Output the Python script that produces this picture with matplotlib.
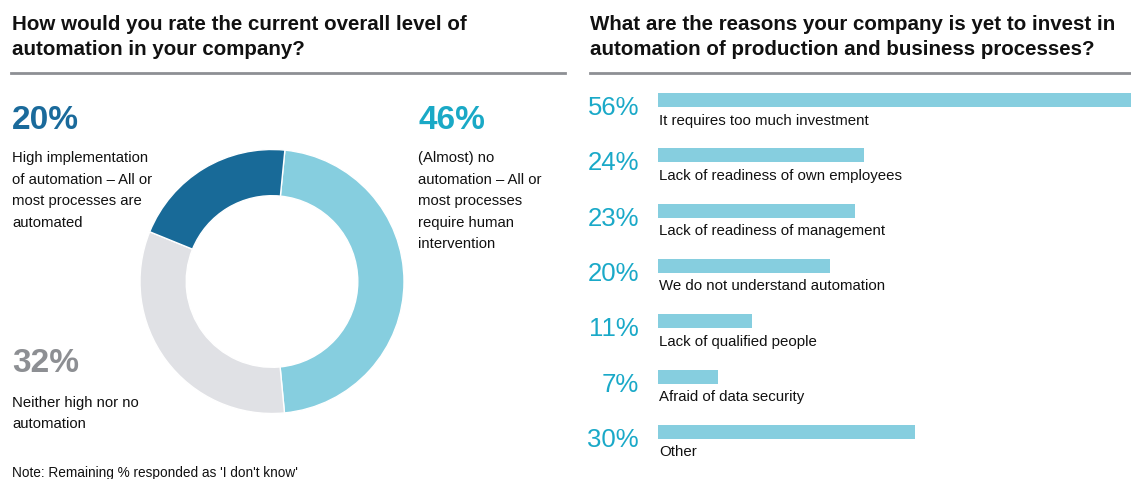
import matplotlib.pyplot as plt
from matplotlib import font_manager

# --- data -------------------------------------------------------------
donut_labels = ["(Almost) no automation", "Neither high nor no automation",
                "High implementation of automation"]
donut_values = [46, 32, 20]

reasons = ["It requires too much investment",
           "Lack of readiness of own employees",
           "Lack of readiness of management",
           "We do not understand automation",
           "Lack of qualified people",
           "Afraid of data security",
           "Other"]
reason_pct = [56, 24, 23, 20, 11, 7, 30]

# --- style ------------------------------------------------------------
names = {f.name for f in font_manager.fontManager.ttflist}
NARROW = "Liberation Sans Narrow" if "Liberation Sans Narrow" in names else "Liberation Sans"
plt.rcParams["font.family"] = [NARROW, "DejaVu Sans"]

DARK = "#186a98"
LIGHT = "#86cedf"
GREY = "#e0e1e5"
CYAN = "#1aa9c8"
RULE = "#8d8f94"

W, H = 1131, 479
fig = plt.figure(figsize=(W / 100, H / 100), dpi=100)


def px(x, y):
    return x / W, 1 - y / H


def txt(x, y, s, **kw):
    fig.text(*px(x, y), s, va="baseline", **kw)


def lines(x, y0, step, block, **kw):
    for k, s in enumerate(block):
        txt(x, y0 + k * step, s, **kw)


# titles + rules
title = dict(fontsize=14.8, fontweight="bold", color="#111111")
lines(12, 30.5, 24.5, ["How would you rate the current overall level of",
                       "automation in your company?"], **title)
lines(590, 30.5, 24.5, ["What are the reasons your company is yet to invest in",
                        "automation of production and business processes?"], **title)
fig.add_artist(plt.Line2D([11 / W, 565 / W], [1 - 73.3 / H] * 2, color=RULE, lw=2))
fig.add_artist(plt.Line2D([590 / W, 1], [1 - 73.3 / H] * 2, color=RULE, lw=2))

# --- donut ------------------------------------------------------------
cx, cy, r = 272, 281.5, 132
ax = fig.add_axes([(cx - r) / W, 1 - (cy + r) / H, 2 * r / W, 2 * r / H])
ax.pie(donut_values, colors=[LIGHT, GREY, DARK], startangle=84.4, counterclock=False,
       radius=1, wedgeprops=dict(width=0.35, edgecolor="white", linewidth=1))
ax.set_xlim(-1, 1)
ax.set_ylim(-1, 1)
ax.set_aspect("equal")
ax.axis("off")

body = dict(fontsize=10.7, color="#111111")
big = dict(fontsize=24, fontweight="bold")
txt(12, 129, f"{donut_values[2]}%", color="#1a6a9b", **big)
lines(12, 162, 21.6, ["High implementation", "of automation \u2013 All or",
                      "most processes are", "automated"], **body)
txt(418, 129, f"{donut_values[0]}%", color="#1aa9c6", **big)
lines(418, 162, 21.6, ["(Almost) no", "automation \u2013 All or", "most processes",
                       "require human", "intervention"], **body)
txt(12, 372, f"{donut_values[1]}%", color="#8d8f93", **big)
lines(12, 406.5, 21.6, ["Neither high nor no", "automation"], **body)
txt(12, 477, "Note: Remaining % responded as 'I don't know'", fontsize=9.8, color="#111111")

# --- bars -------------------------------------------------------------
row = 55.33
x0, top = 658, 100 - row / 2
per_pct = 8.58
bx = fig.add_axes([x0 / W, 1 - (top + 7 * row) / H, (W - x0) / W, 7 * row / H])
ys = range(len(reasons))
bx.barh(ys, reason_pct, height=14 / row, color=LIGHT, align="center")
bx.set_xlim(0, (W - x0) / per_pct)
bx.set_ylim(len(reasons) - 0.5, -0.5)
bx.axis("off")
for i, (p, lab) in enumerate(zip(reason_pct, reasons)):
    bx.text(-19 / per_pct, i + 15 / row, f"{p}%", ha="right", va="baseline",
            fontsize=18.5, color=CYAN, clip_on=False)
    bx.text(0.1, i + 24.5 / row, lab, ha="left", va="baseline",
            fontsize=10.8, color="#111111", clip_on=False)

fig.savefig("out.png", dpi=100)
